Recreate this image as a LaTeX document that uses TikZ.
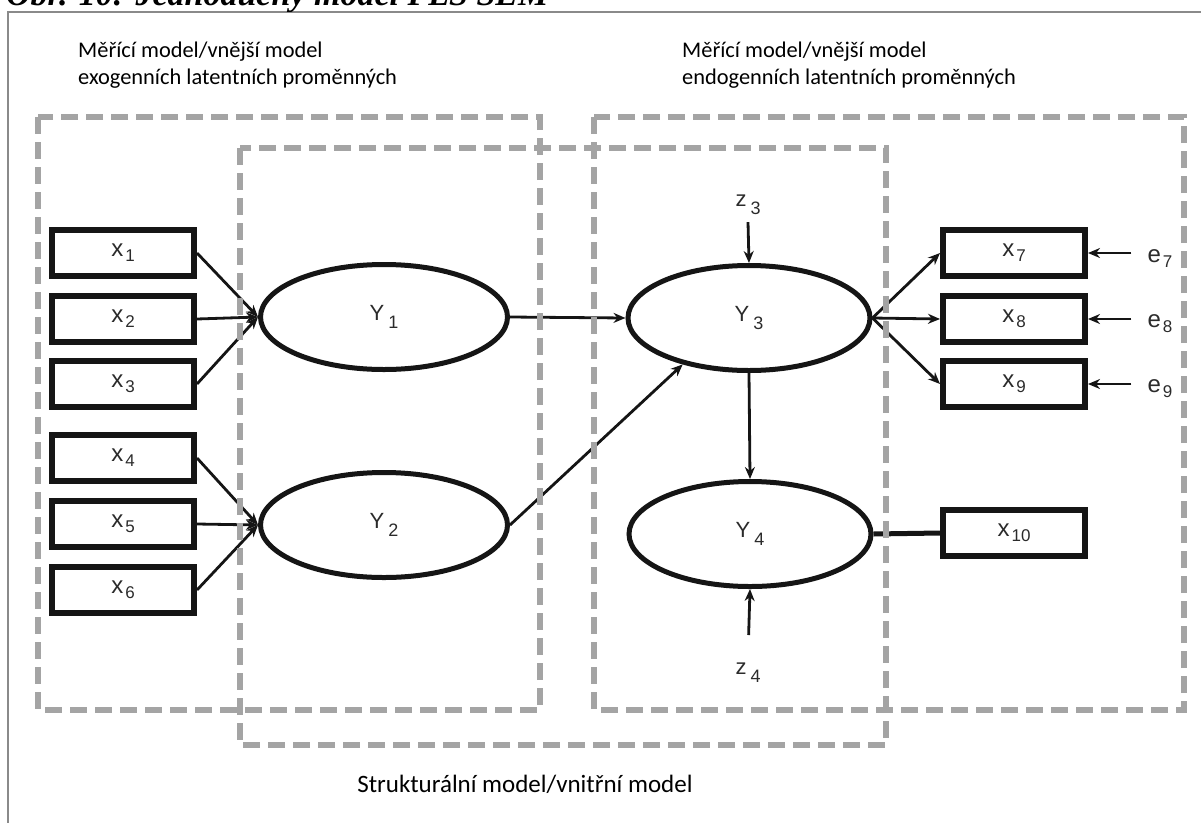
\documentclass[tikz,border=0pt]{standalone}
\usepackage{fontspec}
\setmainfont{Carlito}
\newfontfamily\labfont{Liberation Sans}
\newfontfamily\capfont{Liberation Serif}
\usetikzlibrary{shapes.geometric,arrows.meta}

\definecolor{zonegray}{HTML}{A4A4A4}
\definecolor{framegray}{HTML}{8A8A8A}
\definecolor{ink}{HTML}{151515}
\definecolor{labink}{HTML}{2B2B2B}

% observed variable label: letter with lowered index
\newcommand\obslab[2]{{\labfont\fontsize{24}{24}\selectfont #1\kern2pt\raisebox{-5pt}{\fontsize{17}{17}\selectfont #2}}}
% latent variable / disturbance label
\newcommand\latlab[2]{{\labfont\fontsize{22}{22}\selectfont #1\kern4pt\raisebox{-8pt}{\fontsize{18}{18}\selectfont #2}}}

\begin{document}
\begin{tikzpicture}[x=1pt,y=-1pt,
  obs/.style={draw=ink, line width=6pt, minimum width=142pt, minimum height=46pt, inner sep=0pt, text=labink},
  lat/.style={ellipse, draw=ink, line width=5pt, minimum width=242pt, minimum height=105pt, inner sep=0pt, text=labink},
  errlab/.style={inner sep=0pt, inner xsep=16pt, text=labink},
  distlab/.style={inner sep=7pt, text=labink},
  path/.style={draw=ink, line width=2.8pt, -{Stealth[length=12pt,width=10pt]}},
  plain/.style={draw=ink, line width=5pt},
  zone/.style={draw=zonegray, line width=6pt, dash pattern=on 17pt off 8pt},
  caption/.style={inner sep=0pt, text=black, font=\fontsize{22.4}{27}\selectfont},
]
\useasboundingbox (0,0) rectangle (1201,822);

% page frame (only its top and left edges fall on the page)
\draw[framegray, line width=1.5pt] (8,12) rectangle (1240,860);

% figure title, cut by the upper page edge
\begin{scope}
  \clip (0,0) rectangle (1201,11);
  \node[anchor=base west, inner sep=0pt] (title) at (6,5)
    {\capfont\bfseries\itshape\fontsize{34}{34}\selectfont Obr. 10: Jednoduchý model PLS SEM};
\end{scope}

% zone captions
\node[caption, anchor=base west] (exoA) at (78,57) {Měřící model/vnější model};
\node[caption, anchor=base west] (exoB) at (78,84) {exogenních latentních proměnných};
\node[caption, anchor=base west] (endoA) at (682,57) {Měřící model/vnější model};
\node[caption, anchor=base west] (endoB) at (682,84) {endogenních latentních proměnných};
\node[inner sep=0pt, anchor=base, font=\fontsize{25}{30}\selectfont] (inner) at (525,792) {Strukturální model/vnitřní model};

% manifest variables
\node[obs] (x1) at (123,253) {\obslab{x}{1}};
\node[obs] (x2) at (123,319) {\obslab{x}{2}};
\node[obs] (x3) at (123,384) {\obslab{x}{3}};
\node[obs] (x4) at (123,458) {\obslab{x}{4}};
\node[obs] (x5) at (123,524) {\obslab{x}{5}};
\node[obs] (x6) at (123,590) {\obslab{x}{6}};
\node[obs] (x7) at (1014,253) {\obslab{x}{7}};
\node[obs] (x8) at (1014,319) {\obslab{x}{8}};
\node[obs] (x9) at (1014,384) {\obslab{x}{9}};
\node[obs] (x10) at (1014,533) {\obslab{x}{10}};

% latent variables
\node[lat, minimum width=247pt] (Y1) at (384,317) {\latlab{Y}{1}};
\node[lat, minimum width=247pt] (Y2) at (384,525) {\latlab{Y}{2}};
\node[lat] (Y3) at (749,318) {\latlab{Y}{3}};
\node[lat] (Y4) at (750,534) {\latlab{Y}{4}};

% disturbances and measurement errors
\node[distlab] (z3) at (748,205) {\latlab{z}{3}};
\node[distlab] (z4) at (748,673) {\latlab{z}{4}};
\node[errlab] (e7) at (1160,259) {\obslab{e}{7}};
\node[errlab] (e8) at (1160,324) {\obslab{e}{8}};
\node[errlab] (e9) at (1160,389) {\obslab{e}{9}};

% formative indicators
\foreach \i in {x1,x2,x3} \draw[path] (\i.east) -- (Y1.west);
\foreach \i in {x4,x5,x6} \draw[path] (\i.east) -- (Y2.west);

% inner model
\draw[path] (Y1.east) -- (Y3.west);
\draw[path] (Y2.east) -- (Y3.215);
\draw[path] (Y3.south) -- (Y4.north);
\draw[path] (z3.south) -- (Y3.north);
\draw[path, shorten <=21pt] (z4.north) -- (Y4.south);

% reflective indicators
\foreach \i in {x7,x8,x9} \draw[path] (Y3.east) -- (\i.west);
\draw[plain] (Y4.east) -- (x10.west);
\draw[path] (e7.west |- x7.east) -- (x7.east);
\draw[path] (e8.west |- x8.east) -- (x8.east);
\draw[path] (e9.west |- x9.east) -- (x9.east);

% model zones
\draw[zone] (38,117) rectangle (540,710);
\draw[zone] (240,148) rectangle (886,745);
\draw[zone] (594,117) rectangle (1184,710);
\end{tikzpicture}
\end{document}
